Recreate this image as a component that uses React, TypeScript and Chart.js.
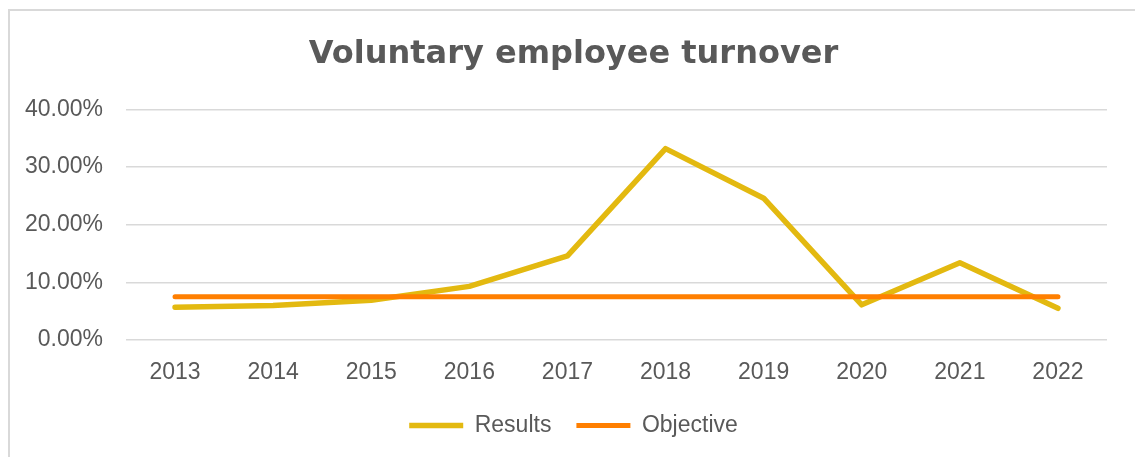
import React, { useEffect, useRef } from "react";
import { Chart, registerables } from "chart.js";

Chart.register(...registerables);

const years = ["2013", "2014", "2015", "2016", "2017", "2018", "2019", "2020", "2021", "2022"];
const results = [5.7, 6.0, 6.9, 9.3, 14.6, 33.2, 24.6, 6.1, 13.4, 5.5];
const objective = [7.5, 7.5, 7.5, 7.5, 7.5, 7.5, 7.5, 7.5, 7.5, 7.5];
const yMin = 0;
const yMax = 40;
const yStep = 10;

const TEXT = "#595959";
const TICK_FONT = "'Liberation Sans', Arial, sans-serif";

export default function App() {
  const ref = useRef<HTMLCanvasElement | null>(null);

  useEffect(() => {
    if (!ref.current) return;
    const chart = new Chart(ref.current, {
      type: "line",
      data: {
        labels: years,
        datasets: [
          {
            label: "Results",
            data: results,
            borderColor: "#E3B910",
            backgroundColor: "#E3B910",
            borderWidth: 5.5,
            borderCapStyle: "round",
            borderJoinStyle: "round",
            pointRadius: 0,
            tension: 0,
            order: 1,
          },
          {
            label: "Objective",
            data: objective,
            borderColor: "#FF7F00",
            backgroundColor: "#FF7F00",
            borderWidth: 5,
            borderCapStyle: "round",
            borderJoinStyle: "round",
            pointRadius: 0,
            tension: 0,
            order: 0,
          },
        ],
      },
      options: {
        animation: false,
        responsive: true,
        maintainAspectRatio: false,
        layout: { padding: { left: 20, right: 8, top: 0, bottom: 10 } },
        plugins: {
          tooltip: { enabled: false },
          title: {
            display: true,
            text: "Voluntary employee turnover",
            color: TEXT,
            font: { family: "'DejaVu Sans', sans-serif", size: 32, weight: "bold" },
            padding: { top: 35, bottom: 36 },
          },
          legend: {
            display: true,
            position: "bottom",
            labels: {
              usePointStyle: true,
              pointStyle: "line",
              pointStyleWidth: 54,
              color: TEXT,
              font: { family: TICK_FONT, size: 23 },
              padding: 25,
              sort: (a: any, b: any) => a.datasetIndex - b.datasetIndex,
            },
          },
        },
        scales: {
          x: {
            offset: true,
            grid: { display: false, drawTicks: false },
            border: { display: false },
            ticks: {
              color: TEXT,
              font: { family: TICK_FONT, size: 23 },
              padding: 19,
              maxRotation: 0,
            },
            afterFit: (s: any) => {
              s.height = 49;
            },
          },
          y: {
            min: yMin,
            max: yMax,
            grid: { color: "#D9D9D9", lineWidth: 1.5, drawTicks: false },
            border: { display: false },
            ticks: {
              stepSize: yStep,
              color: TEXT,
              font: { family: TICK_FONT, size: 23 },
              padding: 23,
              callback: (v: any) => Number(v).toFixed(2) + "%",
            },
            afterFit: (s: any) => {
              s.width = 106;
            },
          },
          y2: {
            position: "right",
            display: true,
            grid: { display: false, drawTicks: false },
            border: { display: false },
            ticks: { display: false },
            afterFit: (s: any) => {
              s.width = 20;
            },
          },
        },
      },
    });
    return () => chart.destroy();
  }, []);

  return (
    <div style={{ position: "fixed", left: 0, top: 0, width: 1135, height: 457, background: "#fff" }}>
      <div
        style={{
          position: "absolute",
          left: 8,
          top: 9,
          width: 1127,
          height: 448,
          borderTop: "2px solid #D9D9D9",
          borderLeft: "2px solid #D9D9D9",
          boxSizing: "border-box",
        }}
      />
      <div style={{ position: "absolute", left: 0, top: 0, width: 1135, height: 457 }}>
        <canvas ref={ref} />
      </div>
    </div>
  );
}
